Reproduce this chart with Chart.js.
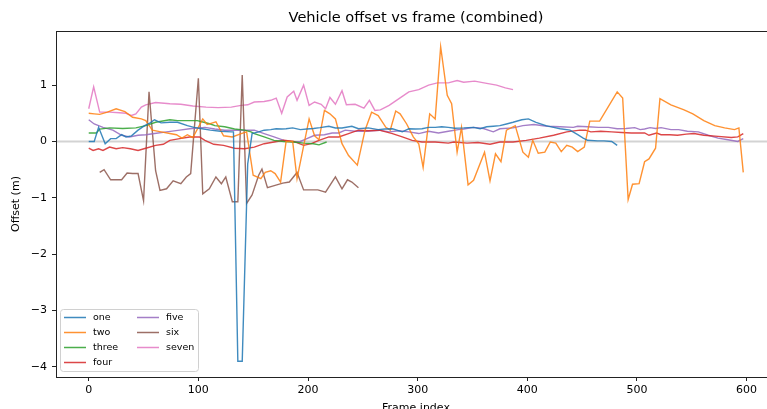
<!DOCTYPE html>
<html>
<head>
<meta charset="utf-8">
<script src="https://cdn.jsdelivr.net/npm/chart.js@4.4.1/dist/chart.umd.min.js"></script>
<style>
  html, body { margin: 0; padding: 0; overflow: hidden; background: #fff; width: 767px; height: 409px; }
  #wrap { position: absolute; left: 0; top: 0; width: 832px; height: 420px; }
</style>
</head>
<body>
<div id="wrap"><canvas id="c" width="832" height="420"></canvas></div>
<script>
const TITLE = 'Vehicle offset vs frame (combined)';
const X_LABEL = 'Frame index';
const Y_LABEL = 'Offset (m)';
const SERIES_NAMES = ['one', 'two', 'three', 'four', 'five', 'six', 'seven'];
const X_TICKS = [0, 100, 200, 300, 400, 500, 600];
const Y_TICKS = [-4, -3, -2, -1, 0, 1];

const oneX = [0, 5, 9, 15, 20, 25, 30, 34, 39, 45, 51, 56, 60, 66, 74, 81, 90, 96, 102, 111, 120, 130, 132, 136, 140, 145, 149, 155, 160, 166, 171, 176, 180, 186, 193, 199, 205, 211, 219, 225, 231, 240, 246, 255, 264, 270, 277, 286, 292, 298, 304, 310, 316, 322, 328, 334, 342, 351, 357, 363, 369, 375, 381, 387, 395, 401, 408, 417, 424, 430, 439, 446, 451, 455, 464, 470, 477, 482];
const oneY = [0, 0, 0.25, -0.04, 0.05, 0.05, 0.12, 0.08, 0.1, 0.2, 0.28, 0.33, 0.385, 0.33, 0.34, 0.34, 0.28, 0.25, 0.23, 0.2, 0.18, 0.17, 0.17, -3.9, -3.9, -0.4, 0.14, 0.17, 0.2, 0.21, 0.225, 0.22, 0.225, 0.24, 0.21, 0.22, 0.23, 0.245, 0.27, 0.24, 0.24, 0.27, 0.225, 0.24, 0.21, 0.22, 0.225, 0.17, 0.225, 0.22, 0.225, 0.25, 0.25, 0.26, 0.25, 0.235, 0.24, 0.25, 0.225, 0.26, 0.27, 0.28, 0.31, 0.34, 0.385, 0.4, 0.34, 0.28, 0.25, 0.225, 0.2, 0.12, 0.06, 0.02, 0.01, 0.01, 0, -0.07];

const twoX = [0, 5, 10, 17, 25, 33, 40, 48, 52, 58, 66, 74, 80, 85, 90, 95, 104, 108, 116, 123, 131, 139, 144, 150, 157, 161, 166, 170, 175, 180, 186, 190, 201, 206, 210, 215, 220, 225, 231, 237, 245, 252, 258, 264, 271, 275, 280, 284, 290, 296, 301, 305, 311, 316, 321, 327, 331, 336, 340, 346, 351, 361, 366, 371, 376, 381, 389, 396, 401, 405, 410, 416, 421, 426, 431, 436, 441, 446, 452, 457, 466, 482, 487, 492, 496, 502, 507, 511, 517, 521, 531, 543, 551, 561, 571, 580, 589, 593, 597];
const twoY = [0.5, 0.49, 0.48, 0.52, 0.58, 0.53, 0.43, 0.4, 0.37, 0.2, 0.17, 0.14, 0.12, 0.06, 0.12, 0.07, 0.4, 0.3, 0.35, 0.1, 0.08, 0.14, 0.17, -0.6, -0.66, -0.55, -0.52, -0.57, -0.72, 0, 0, -0.66, 0.4, 0.1, 0.03, 0.55, 0.49, 0.4, -0.04, -0.25, -0.42, 0.2, 0.52, 0.46, 0.25, 0.2, 0.54, 0.49, 0.31, 0.08, -0.04, -0.46, 0.49, 0.4, 1.68, 0.82, 0.67, -0.19, 0.25, -0.77, -0.69, -0.19, -0.7, -0.22, -0.36, 0.2, 0.28, -0.19, -0.28, 0.02, -0.21, -0.19, -0.01, -0.03, -0.18, -0.07, -0.1, -0.18, -0.1, 0.36, 0.36, 0.88, 0.77, -1.03, -0.76, -0.75, -0.36, -0.31, -0.12, 0.76, 0.65, 0.56, 0.49, 0.37, 0.28, 0.24, 0.21, 0.24, -0.55];

const threeX = [0, 7, 10, 19, 31, 43, 52, 61, 74, 81, 89, 99, 105, 111, 115, 124, 133, 142, 148, 151, 160, 169, 178, 187, 196, 205, 210, 217];
const threeY = [0.15, 0.15, 0.22, 0.24, 0.23, 0.24, 0.28, 0.34, 0.385, 0.37, 0.37, 0.37, 0.34, 0.31, 0.28, 0.26, 0.22, 0.2, 0.17, 0.14, 0.08, 0.02, 0, -0.01, -0.03, -0.04, -0.06, -0.01];

const fourX = [0, 4, 9, 13, 19, 25, 31, 38, 45, 52, 61, 68, 74, 83, 92, 101, 106, 114, 123, 133, 142, 151, 160, 169, 178, 187, 196, 203, 210, 219, 228, 237, 246, 255, 265, 277, 286, 295, 304, 316, 328, 333, 345, 355, 366, 375, 387, 399, 411, 424, 436, 448, 453, 458, 467, 477, 486, 495, 507, 511, 518, 522, 530, 537, 545, 552, 561, 574, 586, 592, 597];
const fourY = [-0.12, -0.16, -0.13, -0.16, -0.1, -0.13, -0.11, -0.13, -0.16, -0.12, -0.07, -0.05, 0.02, 0.05, 0.08, 0.08, 0.02, -0.05, -0.07, -0.12, -0.13, -0.1, -0.04, -0.01, 0.02, 0, -0.07, -0.04, 0.02, 0.08, 0.08, 0.14, 0.2, 0.19, 0.2, 0.14, 0.08, 0.02, -0.01, -0.01, -0.03, -0.01, -0.03, -0.02, -0.05, -0.01, -0.01, 0.02, 0.06, 0.11, 0.17, 0.2, 0.2, 0.17, 0.18, 0.17, 0.16, 0.15, 0.15, 0.11, 0.15, 0.12, 0.12, 0.11, 0.13, 0.14, 0.11, 0.09, 0.07, 0.08, 0.14];

const fiveX = [0, 5, 13, 22, 30, 37, 45, 52, 60, 71, 83, 92, 101, 106, 115, 124, 133, 142, 151, 160, 169, 178, 187, 193, 199, 206, 215, 222, 228, 234, 243, 253, 265, 274, 283, 292, 301, 310, 319, 328, 337, 342, 351, 360, 369, 375, 387, 396, 406, 418, 430, 442, 446, 455, 465, 474, 482, 490, 498, 503, 507, 512, 517, 522, 531, 538, 546, 556, 565, 574, 583, 592, 597];
const fiveY = [0.385, 0.31, 0.25, 0.2, 0.11, 0.08, 0.11, 0.12, 0.14, 0.17, 0.2, 0.225, 0.24, 0.25, 0.22, 0.2, 0.2, 0.2, 0.2, 0.14, 0.08, 0.02, -0.01, 0, 0.05, 0.11, 0.12, 0.15, 0.15, 0.2, 0.18, 0.18, 0.2, 0.17, 0.19, 0.17, 0.14, 0.18, 0.15, 0.18, 0.21, 0.22, 0.25, 0.23, 0.17, 0.225, 0.24, 0.28, 0.3, 0.27, 0.26, 0.25, 0.27, 0.26, 0.25, 0.25, 0.225, 0.23, 0.245, 0.21, 0.22, 0.245, 0.23, 0.245, 0.21, 0.21, 0.18, 0.17, 0.11, 0.06, 0.03, 0, 0.05];

const sixX = [10, 14, 20, 25, 30, 35, 40, 45, 50, 55, 61, 65, 71, 77, 84, 89, 93, 100, 104, 110, 116, 121, 125, 131, 136, 140, 144, 149, 155, 158, 163, 170, 177, 183, 190, 196, 203, 209, 216, 225, 231, 236, 240, 246];
const sixY = [-0.55, -0.5, -0.68, -0.68, -0.68, -0.56, -0.57, -0.57, -1.05, 0.88, -0.52, -0.87, -0.84, -0.7, -0.75, -0.63, -0.57, 1.12, -0.93, -0.84, -0.63, -0.75, -0.63, -1.07, -1.07, 1.18, -1.1, -0.95, -0.6, -0.49, -0.82, -0.78, -0.74, -0.72, -0.55, -0.86, -0.86, -0.86, -0.9, -0.63, -0.84, -0.68, -0.72, -0.82];

const sevenX = [0, 4.5, 10, 19, 28, 34, 39, 43, 48, 52, 61, 74, 84, 95, 107, 118, 130, 139, 145, 151, 160, 166, 171, 176, 181, 187, 190, 196, 201, 206, 212, 216, 220, 225, 231, 235, 243, 251, 256, 261, 266, 274, 283, 292, 301, 310, 318, 328, 336, 342, 352, 363, 372, 380, 387];
const sevenY = [0.58, 0.97, 0.52, 0.52, 0.51, 0.5, 0.46, 0.49, 0.61, 0.65, 0.69, 0.67, 0.66, 0.63, 0.61, 0.6, 0.61, 0.64, 0.65, 0.7, 0.71, 0.73, 0.77, 0.5, 0.79, 0.89, 0.73, 1.0, 0.64, 0.7, 0.66, 0.58, 0.78, 0.66, 0.9, 0.65, 0.66, 0.59, 0.73, 0.55, 0.56, 0.64, 0.76, 0.88, 0.92, 1.0, 1.04, 1.04, 1.08, 1.05, 1.07, 1.03, 1.0, 0.95, 0.92];

const COLORS = ['#1f77b4', '#ff7f0e', '#2ca02c', '#d62728', '#9467bd', '#8c564b', '#e377c2'];
const SERIES_X = [oneX, twoX, threeX, fourX, fiveX, sixX, sevenX];
const SERIES_Y = [oneY, twoY, threeY, fourY, fiveY, sixY, sevenY];

function withAlpha(hex, a) {
  const r = parseInt(hex.slice(1, 3), 16), g = parseInt(hex.slice(3, 5), 16), b = parseInt(hex.slice(5, 7), 16);
  return `rgba(${r},${g},${b},${a})`;
}

const datasets = SERIES_NAMES.map((name, i) => ({
  label: name,
  data: SERIES_X[i].map((x, j) => ({ x: x, y: SERIES_Y[i][j] })),
  borderColor: withAlpha(COLORS[i], 0.85),
  backgroundColor: withAlpha(COLORS[i], 0.85),
  borderWidth: 1.4,
  pointRadius: 0,
  tension: 0,
  fill: false
}));

const FONT = 'DejaVu Sans';

const framePlugin = {
  id: 'frame',
  beforeDatasetsDraw(chart) {
    const { ctx, chartArea: a, scales } = chart;
    const y0 = scales.y.getPixelForValue(0);
    ctx.save();
    ctx.strokeStyle = '#d3d3d3';
    ctx.lineWidth = 2;
    ctx.beginPath();
    ctx.moveTo(a.left, y0);
    ctx.lineTo(a.right, y0);
    ctx.stroke();
    ctx.restore();
  },
  afterDraw(chart) {
    const { ctx, chartArea: a } = chart;
    ctx.save();
    ctx.strokeStyle = '#222';
    ctx.lineWidth = 1;
    ctx.strokeRect(Math.round(a.left) + 0.5, Math.round(a.top) + 0.5, Math.round(a.right - a.left), Math.round(a.bottom - a.top));
    ctx.fillStyle = '#000';
    ctx.font = `14.6px "${FONT}"`;
    ctx.textAlign = 'center';
    ctx.textBaseline = 'middle';
    ctx.fillText(TITLE, (a.left + a.right) / 2, 18);
    const bx = 60.5, by = 309.5, bw = 138, bh = 62, r = 3;
    ctx.beginPath();
    ctx.moveTo(bx + r, by);
    ctx.lineTo(bx + bw - r, by);
    ctx.quadraticCurveTo(bx + bw, by, bx + bw, by + r);
    ctx.lineTo(bx + bw, by + bh - r);
    ctx.quadraticCurveTo(bx + bw, by + bh, bx + bw - r, by + bh);
    ctx.lineTo(bx + r, by + bh);
    ctx.quadraticCurveTo(bx, by + bh, bx, by + bh - r);
    ctx.lineTo(bx, by + r);
    ctx.quadraticCurveTo(bx, by, bx + r, by);
    ctx.closePath();
    ctx.fillStyle = 'rgba(255,255,255,0.8)';
    ctx.fill();
    ctx.strokeStyle = '#d0d0d0';
    ctx.lineWidth = 1;
    ctx.stroke();
    ctx.font = `9.5px "${FONT}"`;
    ctx.textAlign = 'left';
    ctx.textBaseline = 'middle';
    chart.data.datasets.forEach((ds, i) => {
      const col = Math.floor(i / 4), row = i % 4;
      const hx = col === 0 ? 64 : 137;
      const tx = col === 0 ? 93 : 166;
      const yy = 317.5 + row * 15;
      ctx.strokeStyle = ds.borderColor;
      ctx.lineWidth = 1.5;
      ctx.beginPath();
      ctx.moveTo(hx, yy);
      ctx.lineTo(hx + 22, yy);
      ctx.stroke();
      ctx.fillStyle = '#000';
      ctx.fillText(ds.label, tx, yy + 0.5);
    });
    ctx.restore();
  }
};

new Chart(document.getElementById('c'), {
  type: 'line',
  data: { datasets },
  options: {
    responsive: false,
    animation: false,
    events: [],
    layout: { padding: { left: 0, right: 56, top: 31, bottom: 0 } },
    plugins: { legend: { display: false }, tooltip: { enabled: false }, title: { display: false } },
    scales: {
      x: {
        type: 'linear',
        min: -29.85,
        max: 626.85,
        afterFit(s) { s.height = 43; },
        afterBuildTicks(s) { s.ticks = X_TICKS.map(v => ({ value: v })); },
        ticks: { font: { family: FONT, size: 11 }, color: '#000', padding: 3, maxRotation: 0, autoSkip: false, includeBounds: false },
        grid: { drawOnChartArea: false, drawTicks: true, tickLength: 4, color: '#222' },
        border: { display: true, color: '#222', width: 1 },
        title: { display: true, text: X_LABEL, font: { family: FONT, size: 11 }, color: '#000', padding: { top: 0, bottom: 5 } }
      },
      y: {
        type: 'linear',
        min: -4.18,
        max: 1.96,
        afterFit(s) { s.width = 56; },
        afterBuildTicks(s) { s.ticks = Y_TICKS.map(v => ({ value: v })); },
        ticks: { font: { family: FONT, size: 11 }, color: '#000', padding: 5, includeBounds: false,
          callback: v => (v < 0 ? '\u2212' + Math.abs(v) : String(v)) },
        grid: { drawOnChartArea: false, drawTicks: true, tickLength: 4, color: '#222' },
        border: { display: true, color: '#222', width: 1 },
        title: { display: true, text: Y_LABEL, font: { family: FONT, size: 11 }, color: '#000', padding: { top: 10, bottom: 0 } }
      }
    }
  },
  plugins: [framePlugin]
});
</script>
</body>
</html>
